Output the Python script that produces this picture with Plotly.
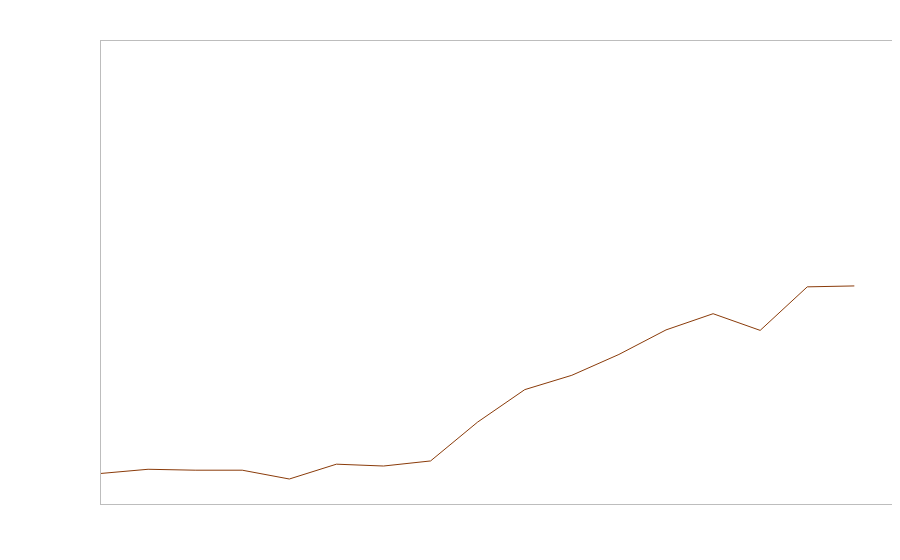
import plotly.graph_objects as go

x_index = list(range(17))
values = [6.6, 7.5, 7.3, 7.3, 5.4, 8.6, 8.2, 9.3, 17.7, 24.7, 27.8, 32.3, 37.6, 41.1, 37.5, 46.9, 47.1]

fig = go.Figure()
fig.add_trace(go.Scatter(x=x_index, y=values, mode="lines",
                         line=dict(color="#8a3b0a", width=1), showlegend=False,
                         hoverinfo="skip"))

axis_common = dict(showgrid=False, zeroline=False, showticklabels=False, ticks="",
                   showline=True, linecolor="#bdbdbd", linewidth=1, mirror=True)
fig.update_layout(
    width=900, height=560,
    margin=dict(l=93, r=16, t=33, b=64),
    paper_bgcolor="white", plot_bgcolor="white",
    xaxis=dict(range=[0, 16.8], **axis_common),
    yaxis=dict(range=[0, 100], **axis_common),
)
fig.write_html("out.html")
